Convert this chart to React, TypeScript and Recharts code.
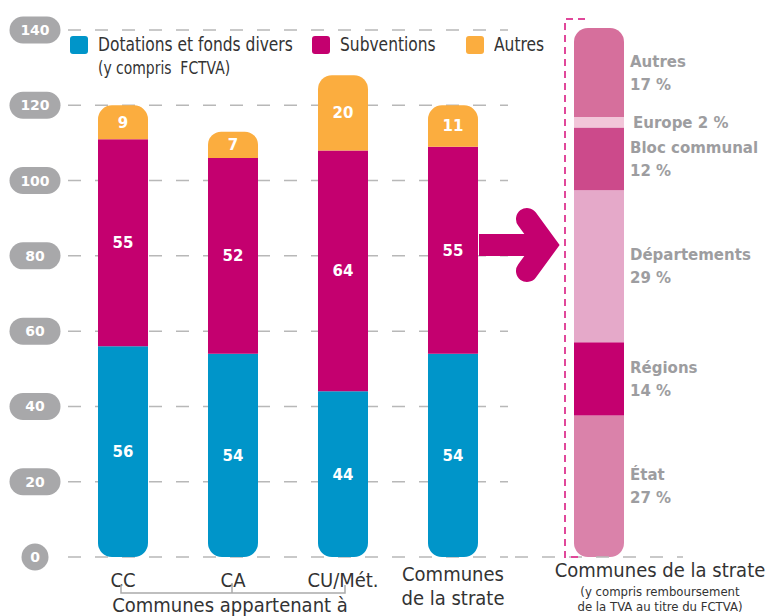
import { Bar, BarChart, CartesianGrid, LabelList, ReferenceLine, XAxis, YAxis } from "recharts";

// left chart: ressources des communes (en euros par habitant)
const categories = ["CC", "CA", "CU/Mét.", "Communes de la strate"];
const dotations = [56, 54, 44, 54];
const subventions = [55, 52, 64, 55];
const autres = [9, 7, 20, 11];
const yTicks = [0, 20, 40, 60, 80, 100, 120, 140];

// right chart: origine des subventions (%)
const sourceNames = ["État", "Régions", "Départements", "Bloc communal", "Europe", "Autres"];
const sourceShares = [27, 14, 29, 12, 2, 17];
const sourceColors = ["#da82aa", "#c4006f", "#e5a9c9", "#cc4a8b", "#f2c6d9", "#d66f9c"];

const BLUE = "#0095c9";
const MAGENTA = "#c4006f";
const ORANGE = "#fbad3f";
const TEXT = "#333333";
const LABEL_GRAY = "#9d9da0";
const FONT = "'DejaVu Sans Condensed', sans-serif";
const BOLD = "'DejaVu Sans', sans-serif";

const data = categories.map((c, i) => ({
  name: c,
  dotations: dotations[i],
  subventions: subventions[i],
  autres: autres[i],
}));

const sourceRow: Record<string, any> = { name: "Communes de la strate" };
sourceNames.forEach((n, i) => {
  sourceRow[n] = sourceShares[i];
});
const sourceData = [sourceRow];

const YTick = (props: any) => {
  const { y, payload } = props;
  const label = String(payload.value);
  const w = label.length === 1 ? 27 : 51;
  return (
    <g>
      <rect x={35 - w / 2} y={y - 13.5} width={w} height={27} rx={13.5} fill="#a8a8aa" />
      <text x={35} y={y + 5} textAnchor="middle" fill="#fff" fontFamily={BOLD} fontWeight="bold" fontSize={14}>
        {label}
      </text>
    </g>
  );
};

const XTick = (props: any) => {
  const { x, y, payload, index } = props;
  const label = String(payload.value);
  const half = 55;
  const base = y - 6;
  let textEl;
  if (label === "Communes de la strate") {
    textEl = (
      <text x={x} textAnchor="middle" fill={TEXT} fontFamily={FONT} fontSize={20}>
        <tspan x={x} y={base + 22}>Communes</tspan>
        <tspan x={x} y={base + 46}>de la strate</tspan>
      </text>
    );
  } else {
    textEl = (
      <text x={x} y={base + 28} textAnchor="middle" fill={TEXT} fontFamily={FONT} fontSize={20}>
        {label}
      </text>
    );
  }
  const by = base + 34;
  return (
    <g>
      {textEl}
      {index === 0 && (
        <path d={`M${x - 2},${by - 8} V${by} H${x + half}`} stroke="#aaa" strokeWidth={1.5} fill="none" />
      )}
      {index === 1 && (
        <g>
          <path d={`M${x - half},${by} H${x + half} M${x - 1},${by} V${by - 10}`} stroke="#aaa" strokeWidth={1.5} fill="none" />
          <text x={x - 3} y={by + 19} textAnchor="middle" fill={TEXT} fontFamily={FONT} fontSize={20}>
            Communes appartenant à
          </text>
        </g>
      )}
      {index === 2 && (
        <path d={`M${x - half},${by} H${x + 2} V${by - 8}`} stroke="#aaa" strokeWidth={1.5} fill="none" />
      )}
    </g>
  );
};

const RightXTick = (props: any) => {
  const { x, y } = props;
  const cx = x + 61;
  return (
    <text textAnchor="middle" fill={TEXT} fontFamily={FONT}>
      <tspan x={cx} y={y + 12} fontSize={20}>Communes de la strate</tspan>
      <tspan x={cx} y={y + 31} fontSize={13}>(y compris remboursement</tspan>
      <tspan x={cx} y={y + 46} fontSize={13}>de la TVA au titre du  FCTVA)</tspan>
    </text>
  );
};

const sourceLabel = (name: string, share: number) => (props: any) => {
  const { x, y, width, height } = props;
  const lx = x + width + 6;
  const cy = y + height / 2;
  if (name === "Europe") {
    return (
      <text x={lx + 3} y={cy + 6} fill={LABEL_GRAY} fontFamily={BOLD} fontWeight="bold" fontSize={15}>
        {`${name} ${share} %`}
      </text>
    );
  }
  return (
    <text fill={LABEL_GRAY} fontFamily={BOLD} fontWeight="bold" fontSize={15}>
      <tspan x={lx} y={cy - 6}>{name}</tspan>
      <tspan x={lx} y={cy + 17}>{`${share} %`}</tspan>
    </text>
  );
};

const valueLabel = { fill: "#fff", fontFamily: BOLD, fontWeight: "bold", fontSize: 15 } as any;

const LegendItem = ({ color, children, left }: any) => (
  <div style={{ position: "absolute", left, top: 36, display: "flex", alignItems: "flex-start" }}>
    <div style={{ width: 18, height: 18, borderRadius: 3, background: color, marginRight: 10, flexShrink: 0 }} />
    <div
      style={{
        fontFamily: FONT,
        fontSize: 20,
        color: TEXT,
        lineHeight: "22px",
        marginTop: -3,
        whiteSpace: "nowrap",
        transform: "scaleX(0.86)",
        transformOrigin: "left top",
      }}
    >
      {children}
    </div>
  </div>
);

export default function App() {
  return (
    <div style={{ position: "absolute", left: 0, top: 0, width: 769, height: 616, background: "#fff" }}>
      <div style={{ position: "absolute", left: 0, top: 0 }}>
        <BarChart width={560} height={616} data={data} margin={{ top: 30, right: 52, bottom: 19, left: 0 }} barSize={50}>
          <CartesianGrid vertical={false} stroke="#b8b8b8" strokeDasharray="13 14" strokeWidth={1.5} />
          <YAxis
            width={68}
            domain={[0, 140]}
            ticks={yTicks}
            interval={0}
            axisLine={false}
            tickLine={false}
            tick={<YTick />}
          />
          <XAxis dataKey="name" height={40} axisLine={false} tickLine={false} interval={0} tick={<XTick />} />
          <Bar dataKey="dotations" stackId="a" fill={BLUE} radius={[0, 0, 14, 14]} isAnimationActive={false}>
            <LabelList dataKey="dotations" position="center" style={valueLabel} />
          </Bar>
          <Bar dataKey="subventions" stackId="a" fill={MAGENTA} isAnimationActive={false}>
            <LabelList dataKey="subventions" position="center" style={valueLabel} />
          </Bar>
          <Bar dataKey="autres" stackId="a" fill={ORANGE} radius={[14, 14, 0, 0]} isAnimationActive={false}>
            <LabelList dataKey="autres" position="center" style={valueLabel} />
          </Bar>
        </BarChart>
      </div>

      <div style={{ position: "absolute", left: 508, top: 0 }}>
        <BarChart width={261} height={616} data={sourceData} margin={{ top: 28, right: 86, bottom: 19, left: 7 }} barSize={50}>
          <YAxis hide domain={[0, 101]} />
          <XAxis dataKey="name" height={40} axisLine={false} tickLine={false} interval={0} tick={<RightXTick />} />
          <ReferenceLine y={0} stroke="#b8b8b8" strokeDasharray="13 14" strokeWidth={1.5} />
          {sourceNames.map((n, i) => (
            <Bar
              key={n}
              dataKey={n}
              stackId="s"
              fill={sourceColors[i]}
              radius={i === 0 ? [0, 0, 14, 14] : i === sourceNames.length - 1 ? [14, 14, 0, 0] : 0}
              isAnimationActive={false}
            >
              <LabelList dataKey={n} content={sourceLabel(n, sourceShares[i])} />
            </Bar>
          ))}
        </BarChart>
      </div>

      <svg width={769} height={616} style={{ position: "absolute", left: 0, top: 0, pointerEvents: "none" }}>
        <path d="M585,19 H565 V557 H578" stroke="#e0489a" strokeWidth={2} strokeDasharray="7 5" fill="none" />
        <rect x={479} y={234} width={58} height={22} fill={MAGENTA} />
        <path d="M527,219 L546,245 L527,271" stroke={MAGENTA} strokeWidth={22} strokeLinecap="round" strokeLinejoin="miter" fill="none" />
      </svg>

      <LegendItem color={BLUE} left={70}>
        <div>Dotations et fonds divers</div>
        <div style={{ fontSize: 18, marginTop: 2 }}>(y compris&nbsp; FCTVA)</div>
      </LegendItem>
      <LegendItem color={MAGENTA} left={312}>
        Subventions
      </LegendItem>
      <LegendItem color={ORANGE} left={466}>
        Autres
      </LegendItem>
    </div>
  );
}
